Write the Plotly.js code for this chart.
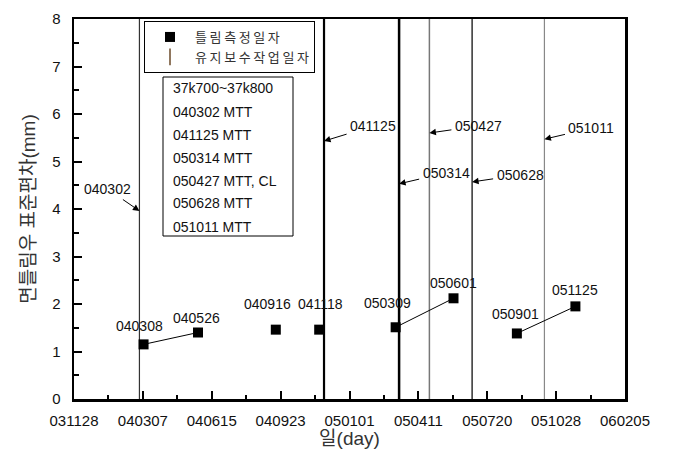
<!DOCTYPE html>
<html>
<head>
<meta charset="utf-8">
<script src="https://cdn.plot.ly/plotly-3.0.1.min.js"></script>
<style>html,body{margin:0;padding:0;background:#fff;}#chart{width:681px;height:460px;}</style>
</head>
<body>
<div id="chart"></div>
<script>
// ---------- data ----------
const measureDates  = ['2004-03-08','2004-05-26','2004-09-16','2004-11-18','2005-03-09','2005-06-01','2005-09-01','2005-11-25'];
const measureLabels = ['040308','040526','040916','041118','050309','050601','050901','051125'];
const stdDev        = [1.15, 1.40, 1.46, 1.46, 1.51, 2.12, 1.38, 1.95];
const linkedPairs   = [[0,1],[4,5],[6,7]];

const maintDates  = ['2004-03-02','2004-11-25','2005-03-14','2005-04-27','2005-06-28','2005-10-11'];
const maintLabels = ['040302','041125','050314','050427','050628','051011'];

const xTickDates  = ['2003-11-28','2004-03-07','2004-06-15','2004-09-23','2005-01-01','2005-04-11','2005-07-20','2005-10-28','2006-02-05'];
const xTickLabels = ['031128','040307','040615','040923','050101','050411','050720','051028','060205'];
const yTickVals   = [0,1,2,3,4,5,6,7,8];

const boxLines = ['37k700~37k800','040302 MTT','041125 MTT','050314 MTT','050427 MTT, CL','050628 MTT','051011 MTT'];

const legendMeasure = '틀림측정일자';
const legendMaint   = '유지보수작업일자';
const yTitle = '면틀림우 표준편차(mm)';
const xTitle = '일(day)';

// ---------- styling / placement ----------
const FONT = 'Liberation Sans, Arial, Noto Sans CJK KR, sans-serif';
const M = {l:74, r:56, t:19, b:61};
const W = 681, H = 460;
const PW = W - M.l - M.r, PH = H - M.t - M.b;
const px2x = p => (p - M.l) / PW;
const px2y = p => (H - M.b - p) / PH;
const spaced = s => Array.from(s).join('\u2009');   // Gulim-like wide letter pitch

const maintStyle = [
  {w:1.2, c:'#333'}, {w:2.2, c:'#000'}, {w:2.5, c:'#000'},
  {w:1.5, c:'#777'}, {w:1.3, c:'#111'}, {w:1.2, c:'#888'}
];
// arrow heads (y in data units) and text offsets in px
const maintArrow = [
  {y:3.96, ax:-32, ay:-22}, {y:5.43, ax:49, ay:-15}, {y:4.53, ax:47, ay:-11},
  {y:5.60, ax:49, ay:-7},  {y:4.57, ax:48, ay:-7},  {y:5.47, ax:47, ay:-11}
];
const labelShift = [[-4,18],[-1,15],[-8,26],[1,26],[-8,24],[0,15],[-1,19],[0,16]];

const traces = [];
maintDates.forEach((d,i)=>{
  traces.push({x:[d,d], y:[0,8], mode:'lines', showlegend:false, hoverinfo:'skip',
    line:{color:maintStyle[i].c, width:maintStyle[i].w}});
});
linkedPairs.forEach(p=>{
  traces.push({x:[measureDates[p[0]],measureDates[p[1]]], y:[stdDev[p[0]],stdDev[p[1]]],
    mode:'lines', showlegend:false, line:{color:'#000', width:1}});
});
traces.push({x:measureDates, y:stdDev, mode:'markers', name:spaced(legendMeasure),
  marker:{symbol:'square', size:10, color:'#000'}});
traces.push({x:[null], y:[null], mode:'markers', name:spaced(legendMaint),
  marker:{symbol:'line-ns-open', size:12, color:'#6b4a2a', line:{width:1.5, color:'#6b4a2a'}}});

const annotations = [];
measureDates.forEach((d,i)=>{
  annotations.push({x:d, y:stdDev[i], text:measureLabels[i], showarrow:false,
    xshift:labelShift[i][0], yshift:labelShift[i][1],
    font:{family:FONT, size:14, color:'#111'}});
});
maintDates.forEach((d,i)=>{
  annotations.push({x:d, y:maintArrow[i].y, text:maintLabels[i], showarrow:true,
    ax:maintArrow[i].ax, ay:maintArrow[i].ay, arrowhead:2, arrowsize:1.3, arrowwidth:1,
    arrowcolor:'#000', standoff:0, startstandoff:2,
    font:{family:FONT, size:14, color:'#111'}});
});
const boxLineY = [88,112,135,158,181,203,227];
boxLines.forEach((t,i)=>{
  annotations.push({xref:'paper', yref:'paper', x:px2x(171), y:px2y(boxLineY[i]),
    xanchor:'left', yanchor:'middle', text:t, showarrow:false,
    font:{family:FONT, size:14, color:'#111'}});
});

const shapes = [
  {type:'rect', xref:'paper', yref:'paper', x0:px2x(163), x1:px2x(293), y0:px2y(77), y1:px2y(236),
   line:{color:'#000', width:1}, fillcolor:'#fff', layer:'below'}
];

const layout = {
  width:W, height:H, margin:M,
  paper_bgcolor:'#fff', plot_bgcolor:'#fff',
  font:{family:FONT, color:'#000'},
  showlegend:true,
  legend:{x:px2x(144), y:px2y(21), xanchor:'left', yanchor:'top',
    bgcolor:'#fff', bordercolor:'#000', borderwidth:1, itemwidth:40,
    font:{family:FONT, size:13, color:'#333'}, tracegroupgap:0},
  xaxis:{type:'date', range:[xTickDates[0], xTickDates[xTickDates.length-1]],
    tickmode:'array', tickvals:xTickDates, ticktext:xTickLabels,
    ticks:'inside', ticklen:8, tickwidth:2, tickcolor:'#000',
    minor:{ticks:'inside', ticklen:4.5, tickwidth:2, tickcolor:'#000',
      tick0:xTickDates[0], dtick:50*86400000, showgrid:false},
    showgrid:false, zeroline:false, showline:true, linewidth:2.5, linecolor:'#000', mirror:true,
    tickfont:{family:FONT, size:15, color:'#111'}, ticklabelstandoff:6,
    title:{text:xTitle, font:{family:FONT, size:19, color:'#333'}, standoff:2}},
  yaxis:{range:[0,8], tickmode:'array', tickvals:yTickVals,
    ticks:'inside', ticklen:8, tickwidth:2, tickcolor:'#000',
    minor:{ticks:'inside', ticklen:4.5, tickwidth:2, tickcolor:'#000', dtick:0.5, showgrid:false},
    showgrid:false, zeroline:false, showline:true, linewidth:2.5, linecolor:'#000', mirror:true,
    tickfont:{family:FONT, size:15, color:'#111'}, ticklabelstandoff:8,
    title:{text:yTitle, font:{family:FONT, size:19, color:'#333'}, standoff:12}},
  annotations:annotations, shapes:shapes
};

Plotly.newPlot('chart', traces, layout, {staticPlot:true, displayModeBar:false});
</script>
</body>
</html>
